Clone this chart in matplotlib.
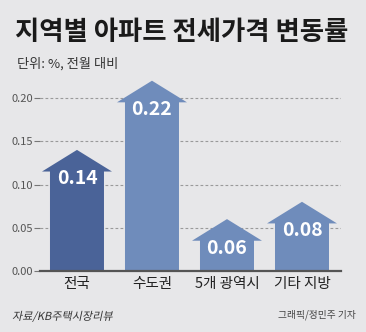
import matplotlib.pyplot as plt
from matplotlib.patches import Polygon, PathPatch
from matplotlib.textpath import TextPath
from matplotlib.font_manager import FontProperties
from matplotlib.transforms import Affine2D, IdentityTransform

plt.rcParams['font.family'] = ['Noto Sans CJK KR', 'DejaVu Sans']

regions = ["전국", "수도권", "5개 광역시", "기타 지방"]
changes = [0.14, 0.22, 0.06, 0.08]
yticks = [0.00, 0.05, 0.10, 0.15, 0.20]

bg = "#e7e7e9"
dark_blue = "#4a6398"
light_blue = "#6f8cbb"

fig = plt.figure(figsize=(3.66, 3.32), dpi=100, facecolor=bg)
ax = fig.add_axes([40 / 366, 61 / 332, 301 / 366, 196 / 332], facecolor=bg)
ax.set_xlim(-0.493, 3.52)
ax.set_ylim(0, 0.2266)

shaft_w = 0.72
head_w = 0.933
head_h = 0.025

for i, (name, v) in enumerate(zip(regions, changes)):
    color = dark_blue if i == 0 else light_blue
    pts = [
        (i - shaft_w / 2, 0),
        (i - shaft_w / 2, v - head_h),
        (i - head_w / 2, v - head_h),
        (i, v),
        (i + head_w / 2, v - head_h),
        (i + shaft_w / 2, v - head_h),
        (i + shaft_w / 2, 0),
    ]
    ax.add_patch(Polygon(pts, closed=True, facecolor=color, edgecolor="none", zorder=3))
    ax.text(i, v - 0.0335, f"{v:.2f}", color="white", fontsize=14, fontweight="bold",
            ha="center", va="center", zorder=4)

ax.set_yticks(yticks)
ax.set_yticklabels([f"{t:.2f}" for t in yticks], fontsize=8, color="#555555")
ax.set_xticks(range(len(regions)))
ax.set_xticklabels(regions, fontsize=10.5, color="#222222")
ax.tick_params(axis="x", length=0, pad=4)
ax.tick_params(axis="y", length=4, width=0.8, color="#777777", pad=1)
for t in yticks[1:]:
    ax.axhline(t, color="#9a9a9a", lw=0.8, ls=(0, (2.5, 2)), zorder=1)

for s in ["top", "right", "left"]:
    ax.spines[s].set_visible(False)
ax.spines["bottom"].set_color("#555555")
ax.spines["bottom"].set_linewidth(1.6)
ax.spines["bottom"].set_zorder(5)

fig.text(15 / 366, 1 - 32 / 332, "지역별 아파트 전세가격 변동률", fontsize=19,
         fontweight="bold", color="#1a1a1a", ha="left", va="center")
fig.text(17 / 366, 1 - 64 / 332, "단위: %, 전월 대비", fontsize=9.5,
         color="#333333", ha="left", va="center")

# source note in a slanted style (CJK fonts have no italic face)
src_path = TextPath((0, 0), "자료/KB주택시장리뷰", size=8,
                    prop=FontProperties(family="Noto Sans CJK KR"))
src_tf = Affine2D().skew_deg(12, 0).scale(100 / 72).translate(12, 332 - 320)
fig.patches.append(PathPatch(src_path, facecolor="#333333", edgecolor="none",
                             transform=src_tf + IdentityTransform(), figure=fig))

fig.text(356 / 366, 1 - 315 / 332, "그래픽/정민주 기자", fontsize=7,
         color="#444444", ha="right", va="center")

fig.savefig("out.png", dpi=100, facecolor=bg)
